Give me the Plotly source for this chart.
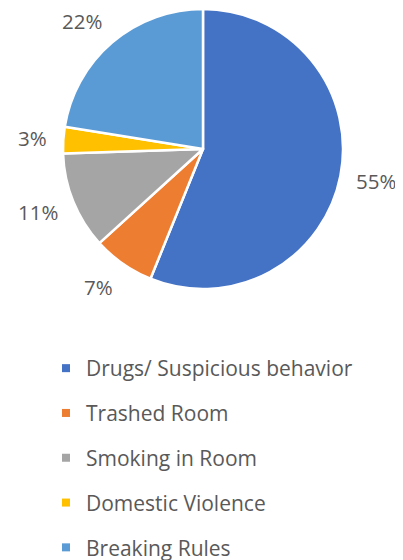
import math
import plotly.graph_objects as go

categories = ["Drugs/ Suspicious behavior", "Trashed Room", "Smoking in Room",
              "Domestic Violence", "Breaking Rules"]
values = [55, 7, 11, 3, 22]
colors = ["#4472C4", "#ED7D31", "#A5A5A5", "#FFC000", "#5B9BD5"]

# the page body adds an 8px margin, so the figure is sized to fit the window
W, H = 395, 552
cx, cy, r = 195, 141, 140
label_r = 155
half_h = 13
FONT = "Open Sans"

fig = go.Figure()
fig.add_trace(go.Pie(
    labels=categories, values=values, sort=False, direction="clockwise", rotation=0,
    marker=dict(colors=colors, line=dict(color="white", width=2.5)),
    textinfo="none", showlegend=False, hoverinfo="label+value",
    domain=dict(x=[(cx - r) / W, (cx + r) / W], y=[1 - (cy + r) / H, 1 - (cy - r) / H]),
))

# data labels placed outside, at each slice's mid-angle (derived from the values)
total = sum(values)
cum = 0
for v in values:
    theta = math.radians((cum + v / 2) / total * 360)
    cum += v
    s, c = math.sin(theta), math.cos(theta)
    px = cx + label_r * s
    py = cy - label_r * c - half_h * c
    xa = "center" if abs(s) < 0.3 else ("left" if s > 0 else "right")
    fig.add_annotation(x=px / W, y=1 - py / H, xref="paper", yref="paper",
                       text=f"{v}%", showarrow=False, xanchor=xa, yanchor="middle",
                       borderpad=0,
                       font=dict(size=20.5, color="#595959", family=FONT))

for i, (cat, col) in enumerate(zip(categories, colors)):
    fig.add_trace(go.Scatter(
        x=[None], y=[None], mode="markers", name=cat, legendgroup=f"g{i}",
        marker=dict(symbol="square", size=8, color=col),
        showlegend=True, hoverinfo="skip",
    ))

fig.update_layout(
    width=W, height=H, margin=dict(l=0, r=0, t=0, b=0, autoexpand=False),
    paper_bgcolor="white", plot_bgcolor="white",
    xaxis=dict(visible=False), yaxis=dict(visible=False),
    showlegend=True,
    legend=dict(x=38 / W, y=1 - 340 / H, xanchor="left", yanchor="top",
                xref="container", yref="container",
                font=dict(size=21, color="#595959", family=FONT),
                tracegroupgap=14.5, itemsizing="trace", bgcolor="rgba(0,0,0,0)"),
)
fig.write_html("out.html")
